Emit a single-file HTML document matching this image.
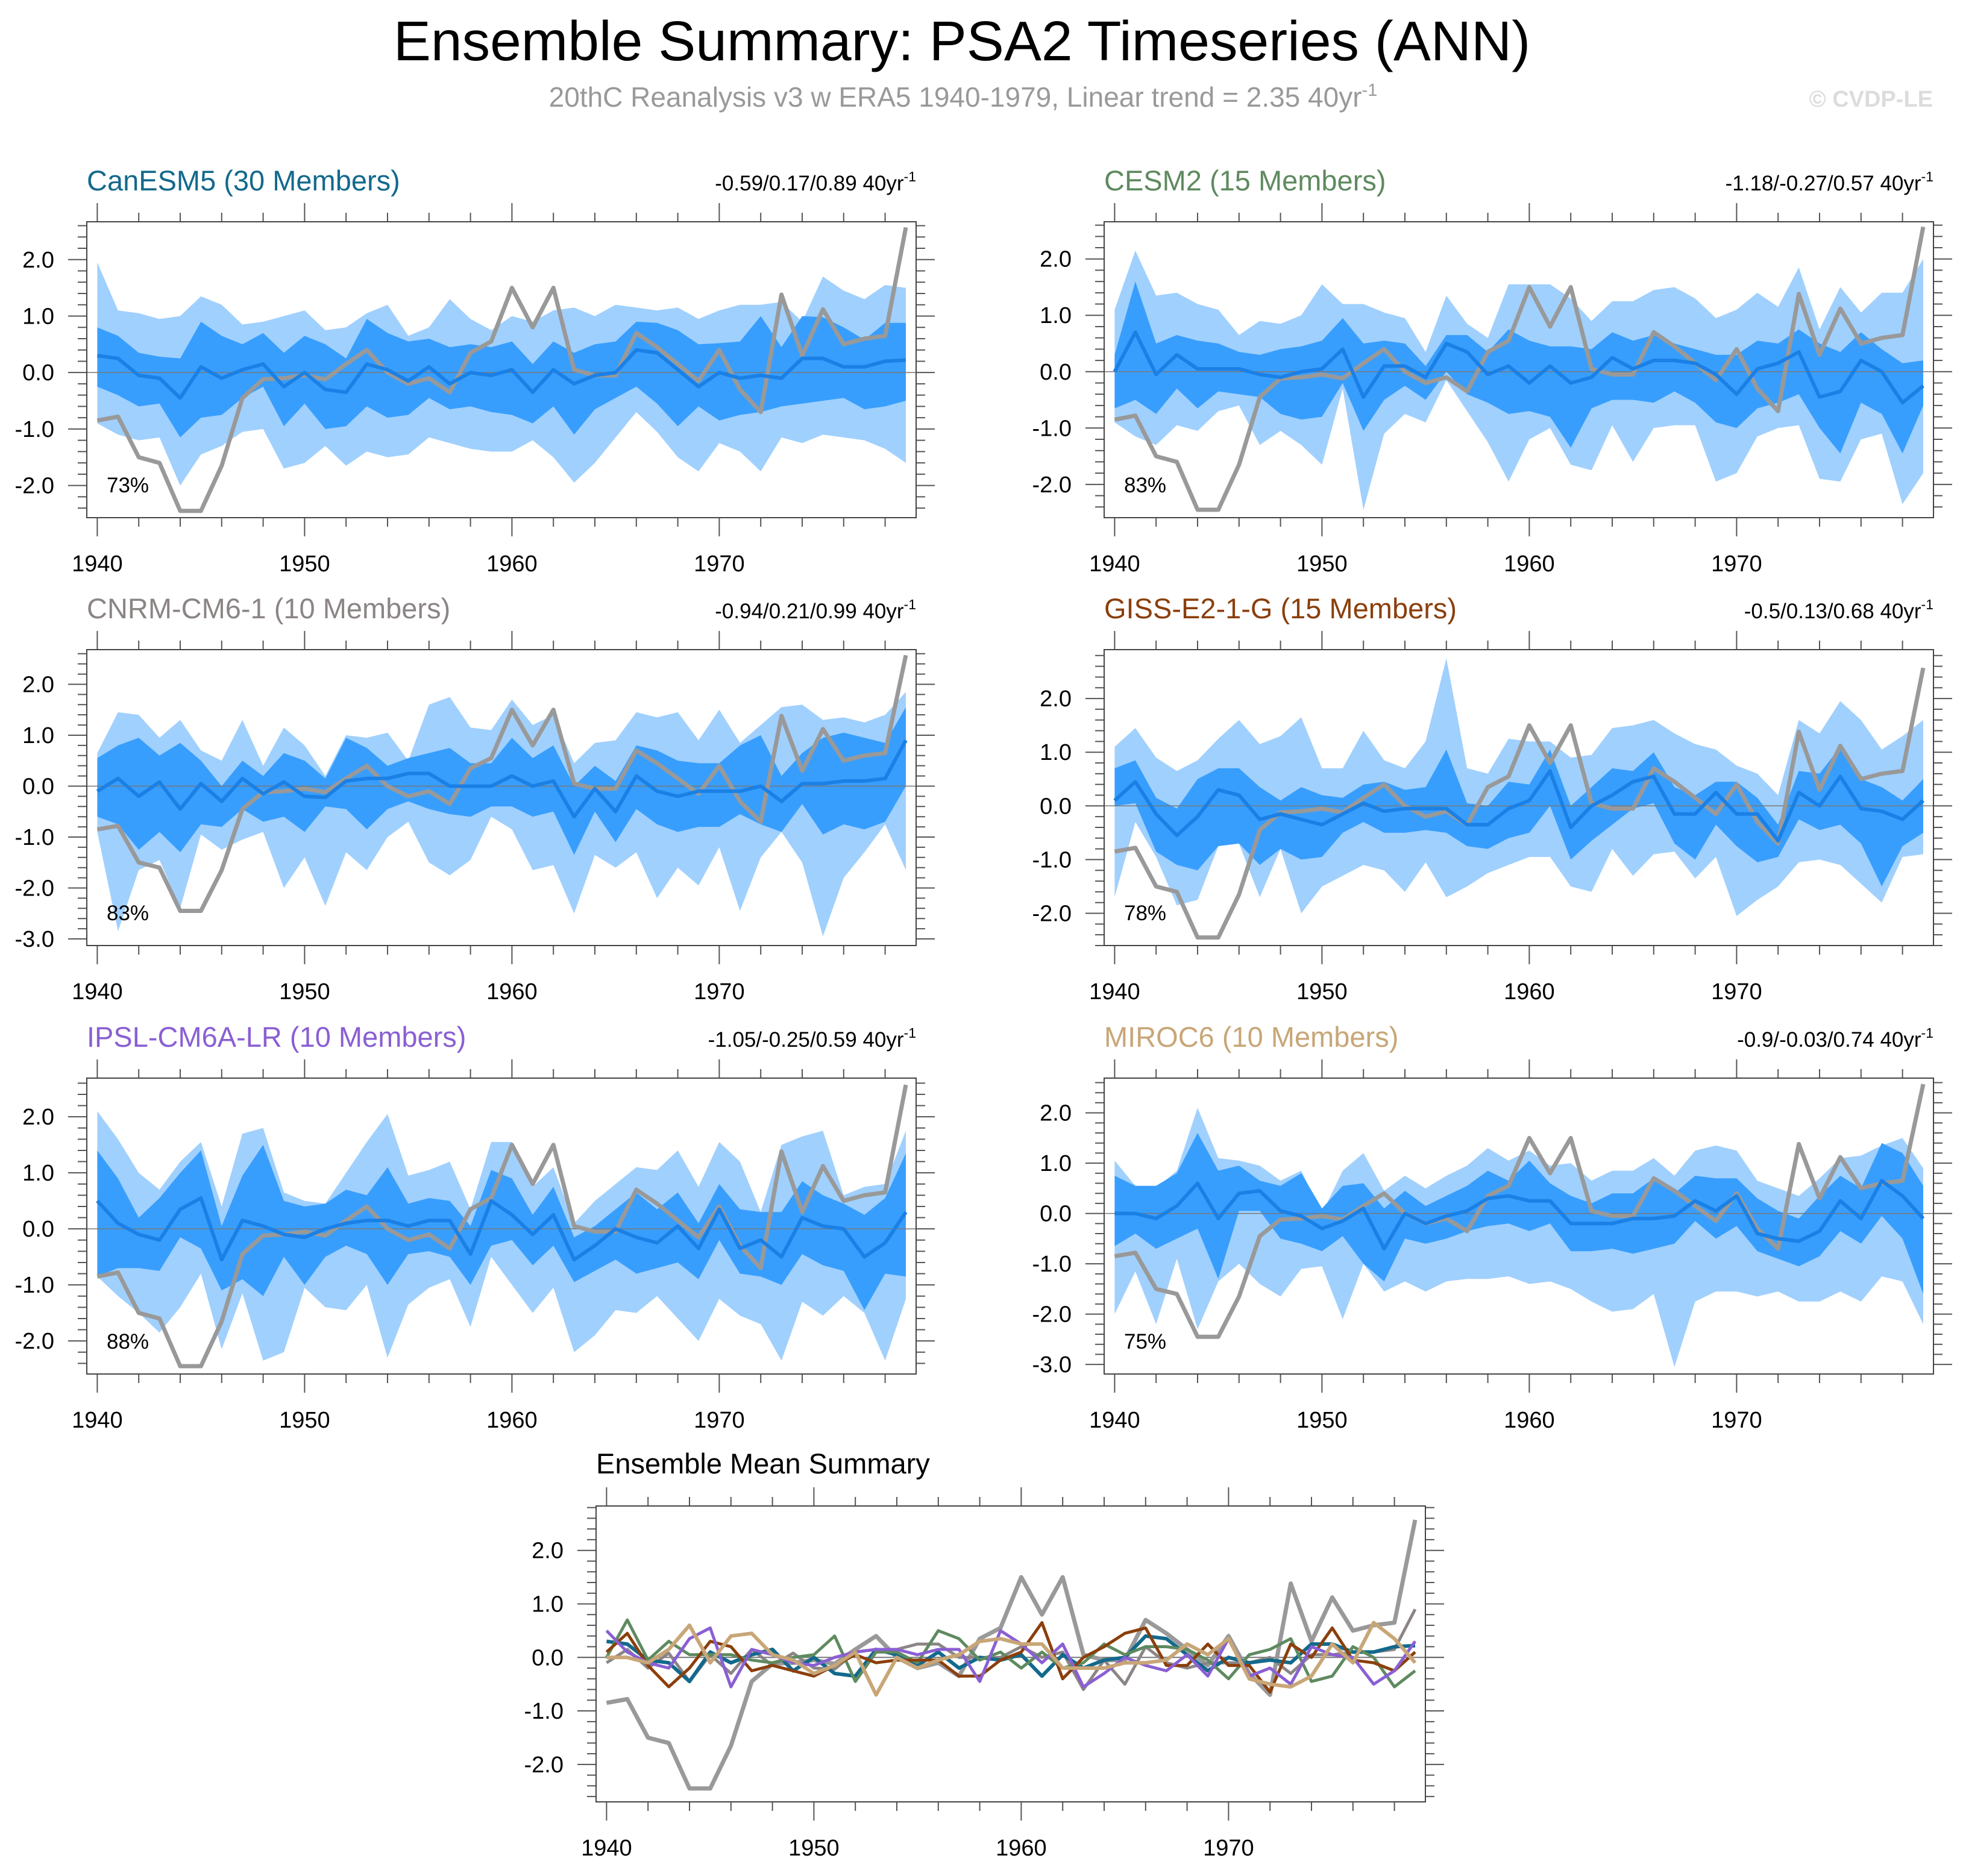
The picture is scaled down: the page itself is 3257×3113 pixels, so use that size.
<!DOCTYPE html>
<html><head><meta charset="utf-8"><title>Ensemble Summary: PSA2 Timeseries (ANN)</title>
<style>
html,body{margin:0;padding:0;background:#fff;}
svg{display:block;font-family:"Liberation Sans",sans-serif;}
</style></head>
<body>
<svg id="chart" xmlns="http://www.w3.org/2000/svg" width="3257" height="3113" viewBox="0 0 3257 3113">
<rect x="0" y="0" width="3257" height="3113" fill="#fff"/>
<text x="1596" y="100" text-anchor="middle" font-size="93" fill="#000">Ensemble Summary: PSA2 Timeseries (ANN)</text>
<text x="1598" y="177" text-anchor="middle" font-size="46" fill="#999">20thC Reanalysis v3 w ERA5 1940-1979, Linear trend = 2.35 40yr<tspan dy="-18" font-size="29">-1</tspan></text>
<text x="3207" y="177" text-anchor="end" font-size="38" font-weight="bold" fill="#dcdcdc">© CVDP-LE</text>
</svg>
<script>
const years=[1940,1941,1942,1943,1944,1945,1946,1947,1948,1949,1950,1951,1952,1953,1954,1955,1956,1957,1958,1959,1960,1961,1962,1963,1964,1965,1966,1967,1968,1969,1970,1971,1972,1973,1974,1975,1976,1977,1978,1979];
const obs=[-0.85,-0.78,-1.5,-1.6,-2.45,-2.45,-1.65,-0.45,-0.12,-0.1,-0.05,-0.12,0.15,0.4,0.0,-0.2,-0.1,-0.35,0.35,0.55,1.5,0.8,1.5,0.05,-0.05,-0.05,0.7,0.45,0.15,-0.15,0.4,-0.3,-0.7,1.38,0.3,1.12,0.5,0.6,0.65,2.57];

const canMean=[0.3,0.25,-0.05,-0.1,-0.45,0.1,-0.1,0.05,0.15,-0.25,0.0,-0.3,-0.35,0.15,0.05,-0.15,0.1,-0.2,0.0,-0.05,0.05,-0.35,0.05,-0.2,-0.05,0.0,0.4,0.35,0.05,-0.25,0.0,-0.1,-0.05,-0.1,0.25,0.25,0.1,0.1,0.2,0.22];
const canOuterHi=[1.95,1.1,1.05,0.95,1.0,1.35,1.2,0.85,0.9,1.0,1.1,0.75,0.8,1.05,1.2,0.65,0.8,1.3,0.95,0.75,1.0,0.9,1.1,1.15,1.0,1.2,1.15,1.1,1.15,0.95,1.1,1.2,1.2,1.25,0.9,1.7,1.45,1.3,1.55,1.5];
const canOuterLo=[-0.9,-1.1,-1.2,-1.15,-2.0,-1.45,-1.3,-1.05,-1.0,-1.7,-1.6,-1.3,-1.65,-1.4,-1.5,-1.45,-1.15,-1.25,-1.35,-1.4,-1.4,-1.2,-1.5,-1.95,-1.6,-1.15,-0.7,-1.05,-1.5,-1.75,-1.25,-1.4,-1.75,-1.15,-1.25,-1.1,-1.15,-1.2,-1.35,-1.6];
const canInnerHi=[0.8,0.65,0.35,0.28,0.25,0.9,0.65,0.5,0.7,0.35,0.65,0.5,0.25,0.95,0.7,0.55,0.6,0.45,0.5,0.45,0.55,0.15,0.55,0.35,0.5,0.55,0.9,0.88,0.75,0.5,0.52,0.55,1.0,0.45,1.0,0.98,0.8,0.58,0.88,0.88];
const canInnerLo=[-0.25,-0.4,-0.6,-0.55,-1.15,-0.8,-0.75,-0.45,-0.25,-0.95,-0.55,-1.0,-0.95,-0.6,-0.8,-0.75,-0.45,-0.65,-0.6,-0.7,-0.75,-0.9,-0.6,-1.1,-0.65,-0.45,-0.25,-0.55,-0.95,-0.6,-0.85,-0.75,-0.7,-0.6,-0.55,-0.5,-0.45,-0.65,-0.6,-0.5];

const cesMean=[0.0,0.7,-0.05,0.3,0.05,0.05,0.05,-0.05,-0.1,0.0,0.05,0.4,-0.45,0.1,0.1,-0.1,0.5,0.35,-0.05,0.1,-0.2,0.1,-0.2,-0.1,0.25,0.05,0.2,0.2,0.15,-0.05,-0.4,0.05,0.15,0.35,-0.45,-0.35,0.2,0.0,-0.55,-0.25];
const cesOuterHi=[1.1,2.15,1.35,1.4,1.2,1.1,0.65,0.9,0.85,1.0,1.55,1.2,1.2,1.05,0.95,0.35,1.35,0.85,0.6,1.55,1.55,1.55,1.3,0.9,1.25,1.25,1.45,1.5,1.3,0.95,1.1,1.4,1.15,1.85,0.75,1.5,1.05,1.4,1.4,2.0];
const cesOuterLo=[-0.9,-1.15,-1.3,-0.95,-1.05,-0.7,-0.6,-1.3,-1.05,-1.3,-1.65,-0.3,-2.45,-1.1,-0.75,-0.9,-0.15,-0.7,-1.25,-1.95,-1.2,-1.0,-1.65,-1.75,-0.95,-1.6,-1.0,-0.95,-0.95,-1.95,-1.8,-1.15,-1.0,-0.95,-1.9,-1.95,-1.2,-1.1,-2.35,-1.8];
const cesInnerHi=[0.3,1.6,0.5,0.65,0.55,0.5,0.35,0.3,0.4,0.45,0.55,0.95,0.5,0.55,0.5,0.1,0.65,0.65,0.35,0.75,0.55,0.45,0.45,0.4,0.7,0.55,0.65,0.5,0.4,0.3,0.3,0.55,0.5,0.75,0.5,0.35,0.7,0.4,0.15,0.2];
const cesInnerLo=[-0.65,-0.5,-0.75,-0.3,-0.65,-0.35,-0.4,-0.45,-0.75,-0.85,-0.8,-0.2,-1.05,-0.5,-0.25,-0.5,0.0,-0.4,-0.55,-0.75,-0.7,-0.8,-1.35,-0.65,-0.5,-0.5,-0.55,-0.35,-0.55,-0.9,-1.0,-0.65,-0.55,-0.4,-1.0,-1.45,-0.55,-0.75,-1.45,-0.6];

const cnrmMean=[-0.1,0.15,-0.2,0.08,-0.45,0.05,-0.3,0.15,-0.15,0.08,-0.2,-0.22,0.1,0.15,0.15,0.25,0.25,0.0,0.0,0.0,0.2,0.0,0.1,-0.6,-0.05,-0.5,0.2,-0.1,-0.2,-0.1,-0.1,-0.1,0.0,-0.3,0.05,0.05,0.1,0.1,0.15,0.9];
const cnrmOuterHi=[0.65,1.45,1.4,0.95,1.3,0.7,0.5,1.3,0.4,1.15,0.8,0.2,1.0,0.95,1.05,0.5,1.6,1.75,1.15,1.1,1.7,1.2,1.4,0.45,0.85,0.9,1.45,1.35,1.45,0.9,1.5,0.85,1.2,1.55,1.6,1.3,1.35,1.25,1.4,1.85];
const cnrmOuterLo=[-0.9,-2.85,-1.65,-1.45,-2.4,-0.95,-1.25,-1.05,-0.9,-2.0,-1.4,-2.35,-1.3,-1.65,-1.0,-0.7,-1.5,-1.75,-1.45,-0.6,-0.85,-1.65,-1.55,-2.5,-1.35,-1.6,-1.3,-2.2,-1.6,-1.95,-1.2,-2.45,-1.4,-0.9,-1.5,-2.95,-1.8,-1.3,-0.75,-1.65];
const cnrmInnerHi=[0.55,0.8,0.95,0.6,0.85,0.5,0.0,0.5,0.2,0.65,0.5,0.15,0.95,0.75,0.4,0.55,0.65,0.75,0.45,0.45,0.95,0.55,0.8,0.0,0.4,0.1,0.8,0.7,0.5,0.45,0.45,0.8,1.0,0.2,0.65,0.95,1.05,0.95,0.85,1.55];
const cnrmInnerLo=[-0.6,-0.75,-1.25,-0.9,-1.3,-0.75,-0.8,-0.45,-0.7,-0.6,-0.9,-0.4,-0.45,-0.85,-0.45,-0.3,-0.45,-0.55,-0.6,-0.4,-0.4,-0.6,-0.5,-1.35,-0.5,-1.1,-0.45,-0.75,-0.9,-0.8,-0.8,-0.55,-0.75,-0.9,-0.35,-0.95,-0.75,-0.85,-0.7,0.0];

const gissMean=[0.1,0.45,-0.15,-0.55,-0.2,0.3,0.2,-0.25,-0.15,-0.25,-0.35,-0.15,0.05,-0.1,-0.05,-0.05,-0.05,-0.35,-0.35,-0.05,0.1,0.65,-0.4,0.0,0.2,0.45,0.55,-0.15,-0.15,0.25,-0.15,-0.15,-0.65,0.25,0.0,0.55,-0.05,-0.1,-0.25,0.1];
const gissOuterHi=[1.1,1.45,0.9,0.65,0.85,1.25,1.6,1.15,1.3,1.65,0.7,0.7,1.4,0.85,0.7,1.2,2.75,0.7,0.6,1.25,1.2,1.2,0.9,0.95,1.45,1.5,1.6,1.35,1.15,1.05,0.75,0.6,0.2,1.6,1.35,1.95,1.6,1.05,1.3,1.6];
const gissOuterLo=[-1.7,-0.3,-0.95,-1.85,-1.75,-0.75,-0.7,-1.7,-0.8,-2.0,-1.5,-1.3,-1.1,-1.2,-1.6,-1.05,-1.7,-1.5,-1.25,-1.1,-0.95,-0.95,-1.5,-1.6,-0.8,-1.3,-0.9,-0.85,-1.35,-0.95,-2.05,-1.75,-1.5,-1.05,-1.0,-1.1,-1.45,-1.8,-0.95,-0.9];
const gissInnerHi=[0.7,0.85,0.15,-0.05,0.5,0.7,0.7,0.35,0.1,0.35,0.2,0.15,0.4,0.45,0.3,0.35,1.05,0.05,0.0,0.45,0.4,1.05,0.0,0.35,0.7,0.65,1.0,0.35,0.2,0.45,0.45,0.15,-0.35,0.65,0.6,1.1,0.5,0.35,0.1,0.5];
const gissInnerLo=[0.0,0.05,-0.85,-1.1,-1.2,-0.75,-0.7,-1.1,-0.8,-1.0,-0.95,-0.5,-0.3,-0.5,-0.5,-0.45,-0.5,-0.75,-0.8,-0.6,-0.5,0.0,-1.0,-0.65,-0.35,-0.05,0.05,-0.7,-1.0,-0.35,-0.75,-1.05,-0.95,-0.25,-0.45,-0.35,-0.7,-1.5,-0.75,-0.5];

const ipslMean=[0.5,0.1,-0.1,-0.2,0.35,0.55,-0.55,0.15,0.05,-0.1,-0.15,0.0,0.1,0.15,0.15,0.05,0.15,0.15,-0.45,0.5,0.25,-0.1,0.25,-0.55,-0.3,0.0,-0.15,-0.25,0.05,-0.35,0.35,-0.35,-0.2,-0.5,0.2,0.05,0.0,-0.5,-0.25,0.3];
const ipslOuterHi=[2.1,1.6,1.0,0.7,1.2,1.55,0.4,1.7,1.8,0.65,0.5,0.45,1.0,1.55,2.05,0.95,1.05,1.2,0.35,1.55,1.55,0.75,1.1,0.1,0.5,0.8,1.1,1.05,1.4,0.75,1.55,1.2,0.3,1.5,1.65,1.75,0.6,0.75,0.8,1.75];
const ipslOuterLo=[-0.85,-1.2,-1.5,-1.85,-1.4,-0.8,-2.15,-1.15,-2.35,-2.2,-1.05,-1.4,-1.45,-1.0,-2.3,-1.35,-1.05,-0.9,-1.75,-0.5,-1.0,-1.5,-1.05,-2.2,-1.9,-1.45,-1.5,-1.2,-1.6,-2.0,-1.25,-1.55,-1.7,-2.35,-1.3,-1.55,-1.2,-1.5,-2.35,-1.25];
const ipslInnerHi=[1.4,0.9,0.2,0.55,1.0,1.4,0.05,0.95,1.5,0.5,0.4,0.45,0.7,0.6,1.1,0.45,0.55,0.5,0.05,1.05,0.9,0.25,0.75,-0.15,0.05,0.35,0.65,0.35,0.65,0.1,0.8,0.35,0.3,0.3,0.85,0.6,0.45,0.25,0.55,1.35];
const ipslInnerLo=[-0.85,-0.7,-0.7,-0.75,-0.15,-0.35,-1.1,-0.9,-1.2,-0.5,-1.0,-0.5,-0.3,-0.45,-1.0,-0.45,-0.4,-0.5,-1.0,-0.3,-0.2,-0.65,-0.3,-0.95,-0.75,-0.55,-0.8,-0.7,-0.6,-0.9,-0.2,-0.8,-0.85,-1.0,-0.45,-0.65,-0.75,-1.45,-0.8,-0.85];

const mirocMean=[0.0,0.0,-0.1,0.15,0.6,-0.1,0.4,0.45,0.05,-0.05,-0.3,-0.15,0.1,-0.7,0.0,-0.2,-0.05,0.05,0.3,0.35,0.25,0.25,-0.2,-0.2,-0.2,-0.1,-0.1,-0.05,0.25,0.05,0.35,-0.4,-0.5,-0.55,-0.35,0.25,-0.1,0.65,0.35,-0.1];
const mirocOuterHi=[1.05,0.55,0.5,0.85,2.1,1.1,1.05,0.95,0.65,0.85,0.0,0.85,1.2,0.45,0.75,0.5,0.75,0.95,1.3,1.05,1.25,0.95,1.0,0.65,0.85,0.85,1.1,0.75,1.25,1.35,1.25,0.65,0.5,0.35,0.7,1.1,1.15,1.35,1.5,0.9];
const mirocOuterLo=[-2.0,-1.15,-2.2,-0.9,-2.3,-1.35,-1.0,-1.4,-1.65,-1.1,-1.05,-2.1,-1.0,-1.55,-1.35,-1.55,-1.35,-1.3,-1.3,-1.25,-1.4,-1.35,-1.5,-1.75,-1.95,-1.9,-1.6,-3.05,-1.75,-1.55,-1.55,-1.65,-1.55,-1.75,-1.75,-1.55,-1.75,-1.25,-1.35,-2.2];
const mirocInnerHi=[0.75,0.55,0.55,0.8,1.6,0.85,0.95,0.65,0.55,0.8,0.1,0.55,0.6,0.1,0.45,0.15,0.35,0.55,0.85,0.65,1.05,0.6,0.35,0.2,0.4,0.4,0.7,0.4,0.75,0.7,0.7,0.3,0.05,-0.1,0.35,0.75,0.5,1.4,1.2,0.55];
const mirocInnerLo=[-0.65,-0.4,-0.7,-0.5,-0.3,-1.3,0.05,0.05,-0.5,-0.6,-0.75,-0.45,-1.0,-1.35,-0.5,-0.6,-0.5,-0.35,-0.25,-0.2,-0.35,-0.2,-0.75,-0.75,-0.7,-0.8,-0.7,-0.6,-0.15,-0.5,-0.25,-0.75,-0.9,-1.05,-0.85,-0.35,-0.6,-0.05,-0.5,-1.6];

const tickLabelsA=[-2,-1,0,1,2];
const tickLabelsB=[-3,-2,-1,0,1,2];
const decadeLabels=[1940,1950,1960,1970];

const NS="http://www.w3.org/2000/svg";
const svg=document.getElementById('chart');
function mk(tag,attrs,parent){const e=document.createElementNS(NS,tag);for(const k in attrs)e.setAttribute(k,attrs[k]);(parent||svg).appendChild(e);return e;}

const BOXW=1376,BOXH=491;
const panels=[
 {key:'canesm5',x:144,y:368,ymin:-2.57,ymax:2.67,ticks:tickLabelsA,title:'CanESM5 (30 Members)',color:'#13698c',trend:'-0.59/0.17/0.89 40yr',pct:'73%',m:canMean,oh:canOuterHi,ol:canOuterLo,ih:canInnerHi,il:canInnerLo},
 {key:'cesm2',x:1832,y:368,ymin:-2.59,ymax:2.66,ticks:tickLabelsA,title:'CESM2 (15 Members)',color:'#5e8a5f',trend:'-1.18/-0.27/0.57 40yr',pct:'83%',m:cesMean,oh:cesOuterHi,ol:cesOuterLo,ih:cesInnerHi,il:cesInnerLo},
 {key:'cnrm-cm6-1',x:144,y:1078,ymin:-3.13,ymax:2.68,ticks:tickLabelsB,title:'CNRM-CM6-1 (10 Members)',color:'#8c8585',trend:'-0.94/0.21/0.99 40yr',pct:'83%',m:cnrmMean,oh:cnrmOuterHi,ol:cnrmOuterLo,ih:cnrmInnerHi,il:cnrmInnerLo},
 {key:'giss-e2-1-g',x:1832,y:1078,ymin:-2.6,ymax:2.91,ticks:tickLabelsA,title:'GISS-E2-1-G (15 Members)',color:'#8b3f0c',trend:'-0.5/0.13/0.68 40yr',pct:'78%',m:gissMean,oh:gissOuterHi,ol:gissOuterLo,ih:gissInnerHi,il:gissInnerLo},
 {key:'ipsl-cm6a-lr',x:144,y:1789,ymin:-2.59,ymax:2.69,ticks:tickLabelsA,title:'IPSL-CM6A-LR (10 Members)',color:'#8a5fd3',trend:'-1.05/-0.25/0.59 40yr',pct:'88%',m:ipslMean,oh:ipslOuterHi,ol:ipslOuterLo,ih:ipslInnerHi,il:ipslInnerLo},
 {key:'miroc6',x:1832,y:1789,ymin:-3.19,ymax:2.69,ticks:tickLabelsB,title:'MIROC6 (10 Members)',color:'#c8a677',trend:'-0.9/-0.03/0.74 40yr',pct:'75%',m:mirocMean,oh:mirocOuterHi,ol:mirocOuterLo,ih:mirocInnerHi,il:mirocInnerLo}
];

function axes(g,bx,by,ymin,ymax,ticks){
  const xs=yr=>bx+17.4+(yr-1940)*34.4;
  const ys=v=>by+(ymax-v)/(ymax-ymin)*BOXH;
  let d='';
  for(let yr=1940;yr<=1979;yr+=2){const L=(yr%10===0)?31:15;const x=xs(yr);d+=`M${x},${by}V${by-L}M${x},${by+BOXH}V${by+BOXH+L}`;}
  const start=Math.ceil(ymin/0.2-1e-6),end=Math.floor(ymax/0.2+1e-6);
  for(let i=start;i<=end;i++){const v=i*0.2;const L=(Math.abs(v-Math.round(v))<1e-6)?31:15;const y=ys(v);d+=`M${bx},${y}H${bx-L}M${bx+BOXW},${y}H${bx+BOXW+L}`;}
  const t=mk('path',{d:d,stroke:'#555','stroke-width':2,fill:'none'},g);
  
  
  ticks.forEach(v=>{const tx=mk('text',{x:bx-54,y:ys(v)+13,'text-anchor':'end','font-size':38,fill:'#000'},g);tx.textContent=v.toFixed(1);
    
    });
  decadeLabels.forEach(yr=>{const tx=mk('text',{x:xs(yr),y:by+BOXH+89,'text-anchor':'middle','font-size':38,fill:'#000'},g);tx.textContent=yr;
    
    });
  return {xs,ys};
}
function line(g,arr,xs,ys,color,w,name){
  const p=mk('path',{d:arr.map((v,i)=>(i?'L':'M')+xs(years[i]).toFixed(1)+','+ys(v).toFixed(1)).join(''),stroke:color,'stroke-width':w,fill:'none','stroke-linejoin':'round'},g);
  
  
  return p;
}
function band(g,hi,lo,xs,ys,color,name){
  let d=hi.map((v,i)=>(i?'L':'M')+xs(years[i]).toFixed(1)+','+ys(v).toFixed(1)).join('');
  for(let i=lo.length-1;i>=0;i--)d+='L'+xs(years[i]).toFixed(1)+','+ys(lo[i]).toFixed(1);
  const p=mk('path',{d:d+'Z',fill:color,stroke:'none'},g);
  
  
}

panels.forEach(P=>{
  const g=mk('g',{});
  
  
  const ti=mk('text',{x:P.x,y:P.y-52,'font-size':47,fill:P.color},g);ti.textContent=P.title;
  
  
  const tr=mk('text',{x:P.x+BOXW,y:P.y-52,'text-anchor':'end','font-size':35,fill:'#000'},g);
  tr.textContent=P.trend;
  const sup=mk('tspan',{dy:-15,'font-size':23},tr);sup.textContent='-1';
  
  
  const {xs,ys}=axes(g,P.x,P.y,P.ymin,P.ymax,P.ticks);
  band(g,P.oh,P.ol,xs,ys,'#a0d0fe','outer-spread-band');
  band(g,P.ih,P.il,xs,ys,'#389efd','inner-spread-band');
  const z=mk('line',{x1:P.x,x2:P.x+BOXW,y1:ys(0),y2:ys(0),stroke:'#777','stroke-width':1.5},g);
  
  
  line(g,obs,xs,ys,'#999',7,'observed-line');
  line(g,P.m,xs,ys,'#1a80e6',6,'ensemble-mean-line');
  const b=mk('rect',{x:P.x,y:P.y,width:BOXW,height:BOXH,fill:'none',stroke:'#444','stroke-width':2},g);
  
  
  const pc=mk('text',{x:P.x+33,y:P.y+BOXH-42,'font-size':35,fill:'#000'},g);pc.textContent=P.pct;
  
  
});

(function(){
  const bx=989,by=2499,ymin=-2.7,ymax=2.83;
  const g=mk('g',{});
  
  
  const ti=mk('text',{x:bx,y:2445,'font-size':47,fill:'#000'},g);ti.textContent='Ensemble Mean Summary';
  
  
  const {xs,ys}=axes(g,bx,by,ymin,ymax,tickLabelsA);
  const z=mk('line',{x1:bx,x2:bx+BOXW,y1:ys(0),y2:ys(0),stroke:'#777','stroke-width':2},g);
  
  
  line(g,obs,xs,ys,'#999',7,'observed-line');
  line(g,cnrmMean,xs,ys,'#8c8585',5,'cnrm-cm6-1-mean-line');
  line(g,canMean,xs,ys,'#13698c',6,'canesm5-mean-line');
  line(g,cesMean,xs,ys,'#5e8a5f',5,'cesm2-mean-line');
  line(g,gissMean,xs,ys,'#8b3f0c',5,'giss-e2-1-g-mean-line');
  line(g,ipslMean,xs,ys,'#8a5fd3',5,'ipsl-cm6a-lr-mean-line');
  line(g,mirocMean,xs,ys,'#c8a677',6,'miroc6-mean-line');
  const b=mk('rect',{x:bx,y:by,width:BOXW,height:BOXH,fill:'none',stroke:'#444','stroke-width':2},g);
  
  
})();
</script>
</body></html>
